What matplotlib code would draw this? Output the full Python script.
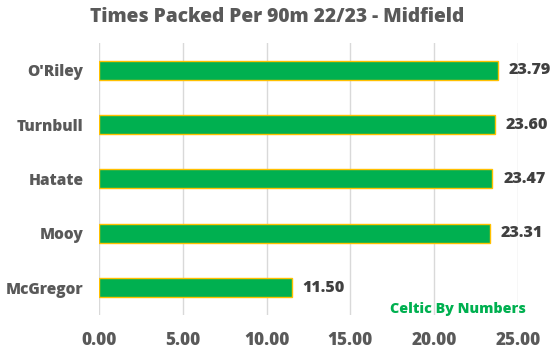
import matplotlib.pyplot as plt

players = ["McGregor", "Mooy", "Hatate", "Turnbull", "O'Riley"]
packed = [11.50, 23.31, 23.47, 23.60, 23.79]
xticks = [0, 5, 10, 15, 20, 25]

plt.rcParams['font.family'] = ['Open Sans', 'DejaVu Sans']

fig = plt.figure(figsize=(5.56, 3.51), dpi=100)
ax = fig.add_axes([0.178, 0.1026, 0.7536, 0.775])

pos = range(len(players))
ax.barh(pos, packed, height=0.35, color='#00B050', edgecolor='#FFC000', linewidth=1, zorder=3)

# value labels to the right of the bars
for y, v in zip(pos, packed):
    ax.text(v + 0.65, y, f'{v:.2f}', va='center', ha='left', fontsize=11.6,
            fontweight='heavy', color='#404040')

ax.set_xlim(0, 25)
ax.set_ylim(-0.5, 4.5)
ax.set_xticks(xticks)
ax.set_xticklabels([f'{t:.2f}' for t in xticks])
ax.set_yticks(list(pos))
ax.set_yticklabels(players)
ax.tick_params(axis='x', length=0, labelsize=12.3, labelcolor='#595959', pad=12)
ax.tick_params(axis='y', length=0, labelsize=11.2, labelcolor='#595959', pad=11)
for lbl in ax.get_xticklabels() + ax.get_yticklabels():
    lbl.set_fontweight('heavy')

ax.grid(axis='x', color='#D9D9D9', linewidth=1, zorder=0)
for s in ax.spines.values():
    s.set_visible(False)

fig.text(0.498, 0.952, 'Times Packed Per 90m 22/23 - Midfield', ha='center', va='center',
         fontsize=13.8, fontweight='heavy', color='#595959')
fig.text(0.946, 0.121, 'Celtic By Numbers', ha='right', va='center',
         fontsize=10.3, fontweight='heavy', color='#00B050')

fig.savefig('out.png', dpi=100)
